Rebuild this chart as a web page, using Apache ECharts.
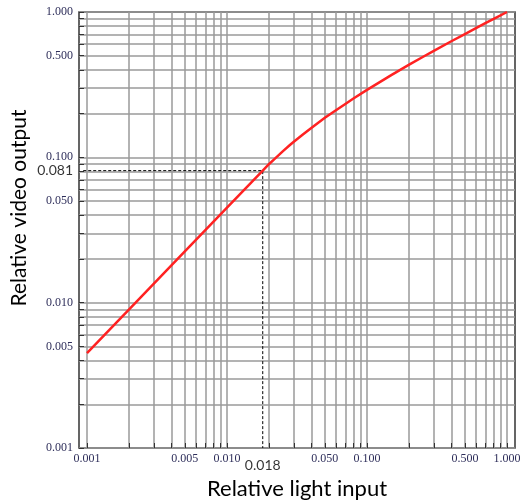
<!DOCTYPE html>
<html>
<head>
<meta charset="utf-8">
<script src="https://cdn.jsdelivr.net/npm/echarts@6/dist/echarts.min.js"></script>
<style>
  html, body { margin: 0; padding: 0; background: #ffffff; }
  #chart { width: 520px; height: 504px; }
</style>
</head>
<body>
<div id="chart"></div>
<script>
// Transfer curve: relative light input -> relative video output (log-log)
const lightInput = [0.001, 0.002, 0.005, 0.010, 0.018, 0.020, 0.022, 0.025, 0.028, 0.030, 0.035, 0.040, 0.050, 0.060, 0.070, 0.080, 0.100, 0.120, 0.150, 0.200, 0.250, 0.300, 0.400, 0.500, 0.600, 0.700, 0.850, 1.000];
const videoOutput = [0.0045, 0.009, 0.0225, 0.045, 0.081, 0.090, 0.098, 0.110, 0.121, 0.128, 0.144, 0.159, 0.187, 0.211, 0.233, 0.254, 0.291, 0.324, 0.369, 0.434, 0.490, 0.540, 0.629, 0.705, 0.774, 0.837, 0.923, 1.000];

// Knee point marked with dashed guides
const kneeInput = 0.018;
const kneeOutput = 0.081;

// Labelled ticks on each axis
const xTickLabels = [0.001, 0.005, 0.010, 0.050, 0.100, 0.500, 1.000];
const yTickLabels = [0.001, 0.005, 0.010, 0.050, 0.100, 0.500, 1.000];

// Grid lines: 1..9 within each decade
const gridValues = [
  0.001, 0.002, 0.003, 0.004, 0.005, 0.006, 0.007, 0.008, 0.009,
  0.01, 0.02, 0.03, 0.04, 0.05, 0.06, 0.07, 0.08, 0.09,
  0.1, 0.2, 0.3, 0.4, 0.5, 0.6, 0.7, 0.8, 0.9,
  1.0
];

const xMin = 0.000877, xMax = 1.14;
const yMin = 0.001, yMax = 1.0;

const curve = lightInput.map((x, i) => [x, videoOutput[i]]);

const tickFont = {
  fontFamily: '"Liberation Serif", "DejaVu Serif", serif',
  fontSize: 12,
  color: '#2e2e5a'
};

const titleFont = 'Lato, "Open Sans", sans-serif';

const chart = echarts.init(document.getElementById('chart'), null, { renderer: 'canvas' });

chart.setOption({
  animation: false,
  backgroundColor: '#ffffff',
  grid: {
    left: 79, top: 12, right: 5, bottom: 56,
    outerBoundsMode: 'none',
    containLabel: false,
    show: true,
    borderColor: '#333333',
    borderWidth: 1.5,
    backgroundColor: 'transparent'
  },
  xAxis: {
    type: 'log',
    logBase: 10,
    min: xMin,
    max: xMax,
    name: 'Relative light input',
    nameLocation: 'middle',
    nameGap: 30,
    nameTextStyle: { fontFamily: titleFont, fontSize: 22, color: '#000000' },
    axisLine: { show: false },
    axisTick: { show: true, inside: true, length: 5, customValues: gridValues, lineStyle: { color: '#333333', width: 1 } },
    axisLabel: {
      customValues: xTickLabels,
      margin: 5,
      ...tickFont,
      formatter: v => Number(v).toFixed(3)
    },
    splitLine: { show: true, lineStyle: { color: '#9a9a9a', width: 1.5 } },
    minorTick: { show: false },
    minorSplitLine: { show: false }
  },
  yAxis: {
    type: 'log',
    logBase: 10,
    min: yMin,
    max: yMax,
    name: 'Relative video output',
    nameLocation: 'middle',
    nameGap: 49,
    nameTextStyle: { fontFamily: titleFont, fontSize: 21, color: '#000000', padding: [0, 0, 0, 44] },
    axisLine: { show: false },
    axisTick: { show: true, inside: true, length: 5, customValues: gridValues, lineStyle: { color: '#333333', width: 1 } },
    axisLabel: {
      customValues: yTickLabels,
      margin: 6,
      ...tickFont,
      formatter: v => Number(v).toFixed(3)
    },
    splitLine: { show: true, lineStyle: { color: '#9a9a9a', width: 1.5 } },
    minorTick: { show: false },
    minorSplitLine: { show: false }
  },
  series: [
    {
      // dashed guides to the knee point
      type: 'line',
      data: [[0.00094, kneeOutput], [kneeInput, kneeOutput], [kneeInput, yMin]],
      symbol: 'none',
      lineStyle: { color: '#000000', width: 1, type: [3, 2] },
      z: 3,
      silent: true
    },
    {
      type: 'line',
      data: curve,
      symbol: 'none',
      smooth: false,
      lineStyle: { color: '#ff2222', width: 2.5, join: 'round' },
      z: 4,
      silent: true
    },
    {
      // knee value labels
      type: 'scatter',
      symbolSize: 0,
      clip: false,
      data: [
        { value: [xMin, kneeOutput], label: { position: 'left', distance: 6, formatter: String(kneeOutput.toFixed(3)) } },
        { value: [kneeInput, yMin], label: { position: 'bottom', distance: 10, formatter: String(kneeInput.toFixed(3)) } }
      ],
      label: {
        show: true,
        fontFamily: titleFont,
        fontSize: 14,
        color: '#000000'
      },
      z: 5,
      silent: true
    }
  ]
});
</script>
</body>
</html>
